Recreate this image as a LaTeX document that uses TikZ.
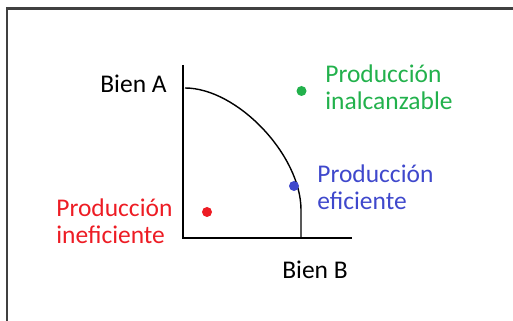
\documentclass[tikz,border=0pt]{standalone}
\usepackage{fontspec}
\setmainfont{Carlito}
\usepackage{tikz}
\definecolor{pgreen}{RGB}{34,177,76}
\definecolor{pred}{RGB}{237,28,36}
\definecolor{pblue}{RGB}{63,72,204}
\definecolor{pframe}{RGB}{64,64,64}
\tikzset{
  lbl/.style={inner sep=0pt, align=left, font=\fontsize{14.5}{15.4}\selectfont},
  dot/.style={circle, inner sep=0pt, minimum size=0.2cm}
}
\begin{document}
\begin{tikzpicture}
\useasboundingbox (0,0) rectangle (10.26,6.42);
\draw[pframe, line width=1.2pt] (0.14,0) -- (0.14,6.25) -- (10.26,6.25);
% axes
\coordinate (O) at (3.66,1.66);
\coordinate (ytop) at (3.66,5.12);
\coordinate (xend) at (7.04,1.66);
\draw[line width=1pt] (ytop) -- (O) -- (xend);
% frontier
\coordinate (fa) at (3.70,4.66);
\coordinate (fb) at (6.02,2.22);
\coordinate (fbase) at (6.02,1.66);
\draw[line width=0.8pt] (fa) .. controls (4.74,4.66) and (6.02,3.32) .. (fb) -- (fbase);
% points
\node[dot, fill=pgreen] (inal) at (6.03,4.60) {};
\node[dot, fill=pblue] (efic) at (5.88,2.70) {};
\node[dot, fill=pred] (inef) at (4.14,2.18) {};
% labels (base = last line)
\node[lbl, anchor=base east] (bienA) at (3.34,4.56) {Bien A};
\node[lbl, anchor=base west] (bienB) at (5.64,0.84) {Bien B};
\node[lbl, anchor=base west, text=pgreen] (tinal) at (6.50,4.22) {Producción\\inalcanzable};
\node[lbl, anchor=base west, text=pblue] (tefic) at (6.34,2.22) {Producción\\eficiente};
\node[lbl, anchor=base west, text=pred] (tinef) at (1.12,1.54) {Producción\\ineficiente};
\end{tikzpicture}
\end{document}
